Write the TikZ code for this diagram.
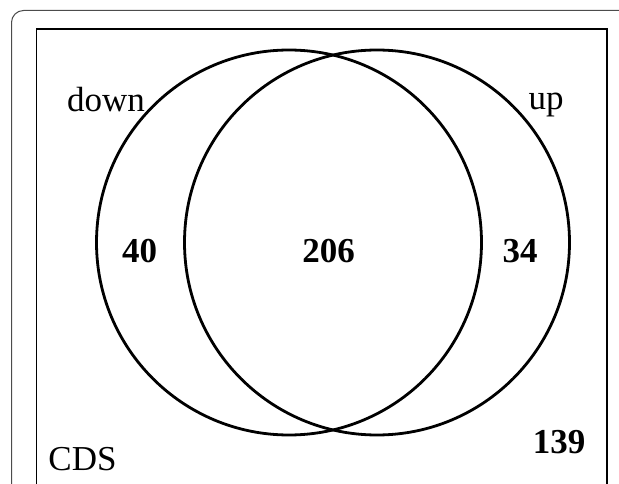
\documentclass[tikz,border=0pt]{standalone}
\usepackage{fontspec}
\setmainfont{Liberation Serif}
\begin{document}
\begin{tikzpicture}[x=1pt,y=-1pt,
  setcircle/.style={draw=black,line width=2.8pt},
  lbl/.style={inner sep=0pt,anchor=base,font=\fontsize{35}{40}\selectfont},
  num/.style={lbl,font=\fontsize{35}{40}\selectfont\bfseries}]
  \useasboundingbox (0,0) rectangle (619,484);
  \clip (0,0) rectangle (619,484);
  % outer frame and universe box
  \draw[draw=black!70,line width=1pt,rounded corners=12pt] (11.5,10.5) rectangle (660,540);
  \draw[line width=1.6pt] (36.5,29) rectangle (607,520);
  % the two sets
  \draw[setcircle] (289,242.5) circle[radius=192.5pt];
  \draw[setcircle] (377,242.5) circle[radius=192.5pt];
  % labels and counts
  \node[lbl] (down) at (106,112) {down};
  \node[lbl] (up) at (546,110) {up};
  \node[lbl] (cds) at (82.5,470) {CDS};
  \node[num] (onlydown) at (139.5,262) {40};
  \node[num] (both) at (328.5,262) {206};
  \node[num] (onlyup) at (520,262) {34};
  \node[num] (neither) at (559,453) {139};
\end{tikzpicture}
\end{document}
